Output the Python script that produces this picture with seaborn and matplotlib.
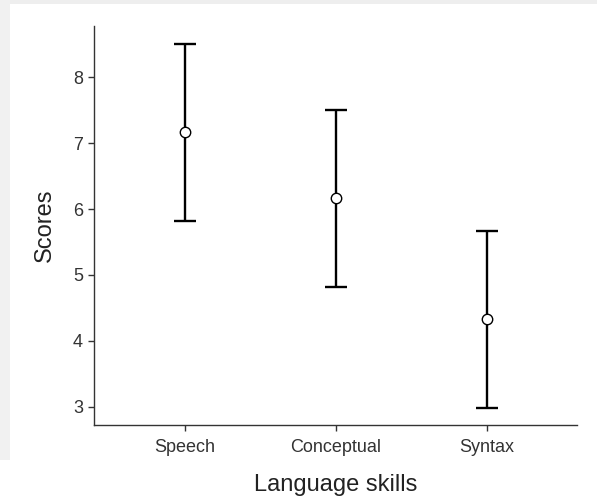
import matplotlib
matplotlib.use("Agg")
import matplotlib.pyplot as plt
import numpy as np
import pandas as pd
import seaborn as sns
from matplotlib.patches import Rectangle

skills = ["Speech", "Conceptual", "Syntax"]
means = [7.16, 6.16, 4.33]
errors = [1.34, 1.34, 1.34]
yticks = [3, 4, 5, 6, 7, 8]

df = pd.DataFrame({"skill": skills, "score": means, "err": errors})

sns.set_theme(style="ticks")
plt.rcParams["font.family"] = ["Liberation Sans", "DejaVu Sans"]

W, H = 597, 497
fig = plt.figure(figsize=(W / 100, H / 100), dpi=100, facecolor="white")
# light gray screenshot edge
fig.patches.append(Rectangle((0, 1 - 4 / H), 1, 4 / H, transform=fig.transFigure,
                             facecolor="#eeeeee", edgecolor="none", zorder=-1))
fig.patches.append(Rectangle((0, 1 - 460 / H), 10 / W, 460 / H, transform=fig.transFigure,
                             facecolor="#f1f1f1", edgecolor="none", zorder=-1))

ax = fig.add_axes([94 / W, 1 - 425 / H, (577 - 94) / W, (425 - 26) / H])
ax.set_facecolor("none")

pos = np.arange(len(skills))
ax.errorbar(pos, df["score"], yerr=df["err"], fmt="none", ecolor="black",
            elinewidth=1.7, capsize=8, capthick=1.7, zorder=2)
sns.pointplot(data=df, x="skill", y="score", ax=ax, errorbar=None,
              linestyle="none", marker="o", color="black",
              markersize=7.5, markerfacecolor="white", markeredgecolor="black",
              markeredgewidth=1.0, zorder=3)
for c in ax.collections:
    c.set_zorder(3)
for l in ax.lines:
    l.set_zorder(3)

ax.set_xlim(-0.603, 2.596)
ax.set_ylim(2.727, 8.773)
ax.set_yticks(yticks)
ax.set_yticklabels([str(t) for t in yticks])
ax.set_xticks(pos)
ax.set_xticklabels(skills)

for s in ["top", "right"]:
    ax.spines[s].set_visible(False)
for s in ["left", "bottom"]:
    ax.spines[s].set_color("#333333")
    ax.spines[s].set_linewidth(1.0)
ax.tick_params(axis="both", colors="#333333", labelcolor="#333333",
               length=4, width=1.0, labelsize=13)
ax.tick_params(axis="x", pad=6)
ax.tick_params(axis="y", pad=4)

ax.set_xlabel("Language skills", fontsize=17, color="#222222", labelpad=13)
ax.set_ylabel("Scores", fontsize=17, color="#222222", labelpad=12)

fig.savefig("out.png", dpi=100, facecolor=fig.get_facecolor())
